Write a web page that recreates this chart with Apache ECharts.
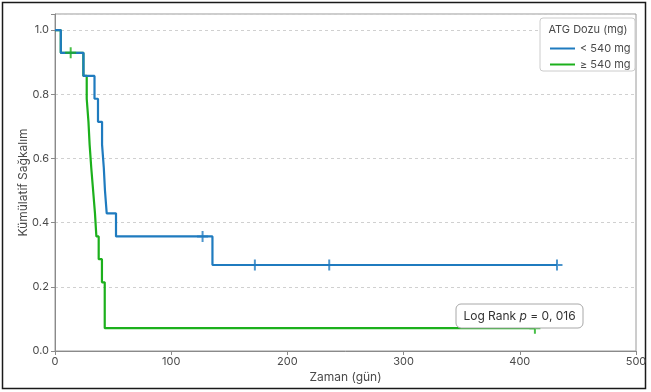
<!DOCTYPE html>
<html>
<head>
<meta charset="utf-8">
<script src="https://cdn.jsdelivr.net/npm/echarts@6/dist/echarts.min.js"></script>
<style>
  html, body { margin: 0; padding: 0; background: #ffffff; }
  #chart { width: 651px; height: 392px; }
</style>
</head>
<body>
<div id="chart"></div>
<script>
// Kaplan-Meier survival by ATG dose group
const groupNames = ['< 540 mg', '\u2265 540 mg'];

// < 540 mg: event times (days) and survival after each event
const lowTimes    = [0, 5, 24.5, 34, 37, 40.5, 42, 43, 44.5, 52.5, 135.5];
const lowSurv     = [1.0, 0.929, 0.857, 0.786, 0.714, 0.643, 0.571, 0.500, 0.429, 0.357, 0.268];
const lowEnd      = 432;
const lowCensorT  = [127, 172, 236, 432];
const lowCensorS  = [0.357, 0.268, 0.268, 0.268];

// >= 540 mg
const highTimes   = [0, 5, 24.4, 27.3, 28.8, 29.8, 31.2, 32.8, 34.4, 35.6, 37.6, 40.4, 42.8];
const highSurv    = [1.0, 0.929, 0.857, 0.786, 0.714, 0.643, 0.571, 0.500, 0.429, 0.357, 0.286, 0.214, 0.071];
const highEnd     = 413;
const highCensorT = [13.5, 413];
const highCensorS = [0.929, 0.071];

const xTicks = [0, 100, 200, 300, 400, 500];
const yTicks = [0.0, 0.2, 0.4, 0.6, 0.8, 1.0];

const blue = '#1f7bbf';
const green = '#1cb01c';

// expand event lists into step-function vertices
function stepPoints(times, surv, end) {
  const pts = [[times[0], surv[0]]];
  for (let i = 1; i < times.length; i++) {
    pts.push([times[i], surv[i - 1]]);
    pts.push([times[i], surv[i]]);
  }
  pts.push([end, surv[surv.length - 1]]);
  return pts;
}
function pairs(a, b) { return a.map((v, i) => [v, b[i]]); }

const plusPath = 'path://M4.1,0H5.9V4.1H10V5.9H5.9V10H4.1V5.9H0V4.1H4.1Z';
const textColor = '#4a4a4a';
const font = 'Inter, "Noto Sans", sans-serif';

const chart = echarts.init(document.getElementById('chart'), null, { renderer: 'canvas' });
chart.setOption({
  animation: false,
  backgroundColor: '#ffffff',
  textStyle: { fontFamily: font },
  grid: {
    left: 55, right: 15, top: 14, bottom: 41,
    show: true, borderColor: '#9a9a9a', borderWidth: 1, backgroundColor: 'transparent'
  },
  xAxis: {
    type: 'value', min: xTicks[0], max: xTicks[xTicks.length - 1], interval: 100,
    name: 'Zaman (g\u00fcn)', nameLocation: 'middle', nameGap: 20, nameMoveOverlap: false,
    nameTextStyle: { color: textColor, fontSize: 12, fontFamily: font },
    axisLine: { show: true, lineStyle: { color: '#8a8a8a', width: 1 } },
    axisTick: { show: true, length: 4, lineStyle: { color: '#8a8a8a' } },
    axisLabel: { color: textColor, fontSize: 11, margin: 5, fontFamily: font },
    splitLine: { show: false }
  },
  yAxis: {
    type: 'value', min: 0, max: 1.05, interval: 0.2,
    name: 'K\u00fcm\u00fclatif Sa\u011fkal\u0131m', nameLocation: 'middle', nameGap: 26,
    nameMoveOverlap: false,
    nameTextStyle: { color: textColor, fontSize: 12, fontFamily: font },
    axisLine: { show: true, lineStyle: { color: '#8a8a8a', width: 1 } },
    axisTick: { show: true, length: 4, lineStyle: { color: '#8a8a8a' } },
    axisLabel: {
      color: textColor, fontSize: 11, margin: 6, fontFamily: font,
      formatter: v => (v > 1.0001 ? '' : v.toFixed(1))
    },
    splitLine: { show: true, lineStyle: { color: '#d0d0d0', type: [3, 3], width: 1 } }
  },
  legend: {
    orient: 'vertical', left: 545, top: 38, itemGap: 5, z: 10,
    itemWidth: 25, itemHeight: 2, icon: 'rect',
    textStyle: { color: textColor, fontSize: 11, fontFamily: font },
    data: groupNames
  },
  series: [
    {
      name: groupNames[0], type: 'line', data: stepPoints(lowTimes, lowSurv, lowEnd),
      showSymbol: false, symbol: 'none', color: blue,
      lineStyle: { color: blue, width: 2.2 }, z: 3
    },
    {
      name: groupNames[1], type: 'line', data: stepPoints(highTimes, highSurv, highEnd),
      showSymbol: false, symbol: 'none', color: green,
      lineStyle: { color: green, width: 2.2 }, z: 2
    },
    {
      name: groupNames[0] + ' censored', type: 'scatter', data: pairs(lowCensorT, lowCensorS),
      symbol: plusPath, symbolSize: 11, itemStyle: { color: blue }, z: 4
    },
    {
      name: groupNames[1] + ' censored', type: 'scatter', data: pairs(highCensorT, highCensorS),
      symbol: plusPath, symbolSize: 11, itemStyle: { color: green }, z: 4
    }
  ],
  graphic: [
    // outer frame
    { type: 'rect', shape: { x: 2.5, y: 2.5, width: 643, height: 386 },
      style: { fill: 'none', stroke: '#1a1a1a', lineWidth: 1.5 }, silent: true },
    // legend box and title
    { type: 'rect', shape: { x: 540, y: 18, width: 95, height: 53, r: 3 },
      style: { fill: '#ffffff', stroke: '#cccccc', lineWidth: 1 }, z: 3 },
    { type: 'text', x: 588, y: 30, z: 6,
      style: { text: 'ATG Dozu (mg)', fill: textColor, fontSize: 11, fontFamily: font,
               align: 'center', verticalAlign: 'middle' } },
    // log-rank annotation
    { type: 'rect', shape: { x: 456, y: 304, width: 127, height: 24, r: 5 },
      style: { fill: '#ffffff', stroke: '#a8a8a8', lineWidth: 1 }, z: 5 },
    { type: 'text', x: 519.5, y: 316.5, z: 6,
      style: {
        text: '{n|Log Rank }{i|p}{n| = 0, 016}',
        align: 'center', verticalAlign: 'middle',
        rich: {
          n: { fill: '#333333', fontSize: 12, fontFamily: font },
          i: { fill: '#333333', fontSize: 12, fontFamily: font, fontStyle: 'italic' }
        }
      } }
  ]
});
</script>
</body>
</html>
